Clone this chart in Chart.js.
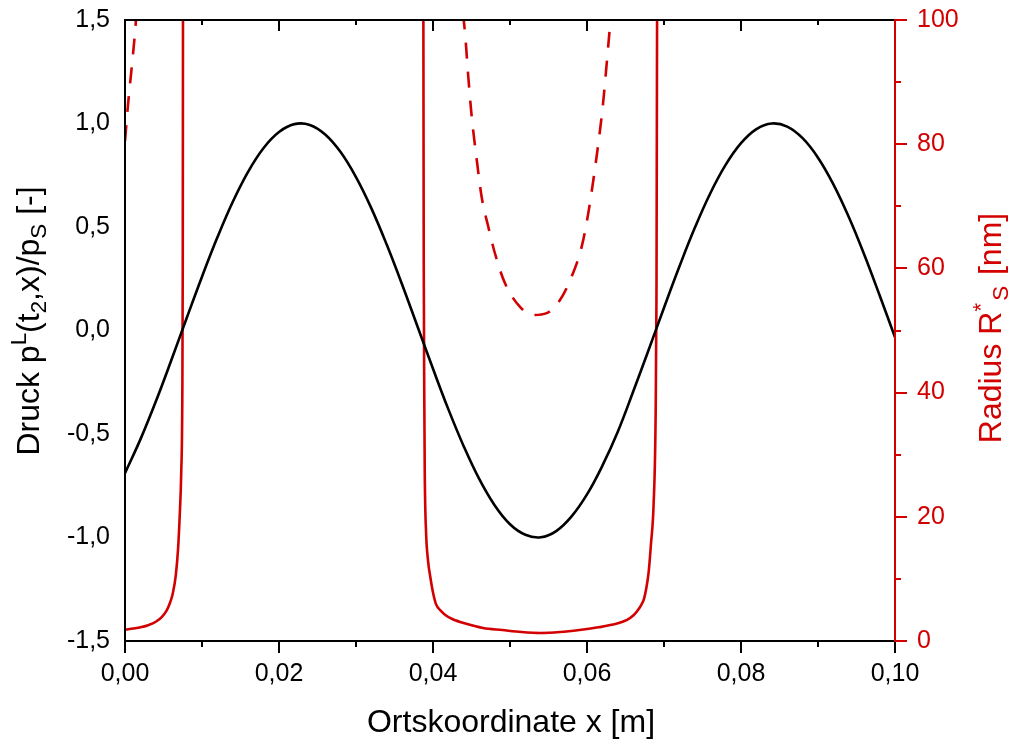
<!DOCTYPE html>
<html><head><meta charset="utf-8">
<script src="https://cdn.jsdelivr.net/npm/chart.js@4/dist/chart.umd.min.js"></script>
<style>html,body{margin:0;padding:0;background:#fff;}#wrap{position:relative;width:1011px;height:742px;}</style>
</head><body><div id="wrap"><canvas id="c" width="1011" height="742"></canvas></div>
<script>
// ---- data ----
const pressureX = [0,0.002,0.004,0.006,0.008,0.010,0.012,0.014,0.016,0.018,0.020,0.022,0.024,0.026,0.028,0.030,0.032,0.034,0.036,0.038,0.040,0.042,0.044,0.046,0.048,0.050,0.052,0.054,0.056,0.058,0.060,0.062,0.064,0.066,0.068,0.070,0.072,0.074,0.076,0.078,0.080,0.082,0.084,0.086,0.088,0.090,0.092,0.094,0.096,0.098,0.100];
const pressureY = [-0.689,-0.526,-0.343,-0.145,0.059,0.260,0.450,0.622,0.768,0.882,0.959,0.997,0.993,0.947,0.862,0.741,0.590,0.414,0.221,0.018,-0.185,-0.381,-0.560,-0.717,-0.844,-0.936,-0.987,-0.999,-0.969,-0.898,-0.792,-0.653,-0.489,-0.295,-0.094,0.110,0.309,0.496,0.662,0.800,0.905,0.973,1.000,0.985,0.929,0.835,0.706,0.548,0.367,0.170,-0.033];
const radiusX = [0,0.001,0.002,0.003,0.004,0.0048,0.0054,0.0058,0.0062,0.0066,0.0069,0.0071,0.0073,0.00744,0.0075,0.00753,0.00755,null,
  0.03873,0.03875,0.0388,0.03887,0.03893,0.0391,0.03935,0.03965,0.0400,0.0404,0.0410,0.0416,0.0425,0.0441,0.0465,0.049,0.0515,0.054,0.0565,0.059,0.0615,0.064,0.0652,0.0660,0.0665,0.0670,0.0674,0.0677,0.0680,0.0683,0.06865,0.0689,0.06902,0.0691,0.06912];
const radiusY = [1.8,2.0,2.2,2.55,3.1,3.9,4.9,6.0,7.6,10.6,15,20,27,38.8,60,100,130,null,
  130,100,60,38.8,27,17.5,13.0,10.3,7.8,5.9,4.9,4.2,3.55,2.85,2.1,1.77,1.45,1.3,1.45,1.77,2.2,2.85,3.4,4.1,4.8,5.7,6.8,8.5,11,15.5,22,35,55,100,130];
const radiusDashX = [0,0.0004,0.0008,0.0013,0.0016,null,
  0.0439,0.04416,0.04458,0.04503,0.04568,0.04632,0.04718,0.04805,0.04935,0.0513,0.05295,0.05477,0.05649,0.05801,0.05931,0.06017,0.06082,0.06147,0.06204,0.06256,0.06299,0.0631];
const radiusDashY = [80.5,86.5,91.5,98,103,null,
  101,97.9,90.9,84.4,77.5,71.5,66.7,62.4,57.6,53.8,52.5,52.8,54.9,58.7,63.5,68.9,74.2,80.1,86.0,93.0,99.2,101];
const xTickValues = [0,0.02,0.04,0.06,0.08,0.10];
const yLeftTickValues = [-1.5,-1.0,-0.5,0,0.5,1.0,1.5];
const yRightTickValues = [0,20,40,60,80,100];

const RED = '#d20000';
const FONT = "'Liberation Sans', Arial, sans-serif";
const pts = (xs, ys) => xs.map((x, i) => x === null ? {x: null, y: null} : {x: x, y: ys[i]});
function comma(v, d){ return v.toFixed(d).replace('.', ','); }

function richText(ctx, parts, x, y, rot, color, size) {
  ctx.save();
  ctx.translate(x, y); ctx.rotate(rot);
  ctx.fillStyle = color; ctx.textBaseline = 'alphabetic'; ctx.textAlign = 'left';
  const small = size * 0.7;
  let total = 0;
  const ws = parts.map(p => { const s = p.k ? small : size; ctx.font = s + 'px ' + FONT; const w = ctx.measureText(p.t).width + (p.gap || 0); total += w; return w; });
  let cx = -total / 2;
  parts.forEach((p, i) => {
    const s = p.k ? small : size;
    ctx.font = s + 'px ' + FONT;
    let dy = 0;
    if (p.k === 'sup') dy = -size * 0.42;
    if (p.k === 'sub') dy = size * 0.22;
    ctx.fillText(p.t, cx, dy);
    cx += ws[i];
  });
  ctx.restore();
}

const decor = {
  id: 'decor',
  afterDraw(chart) {
    const {ctx, chartArea: a, scales} = chart;
    const xs = scales.x, yr = scales.y2;
    ctx.save();
    ctx.lineWidth = 2;
    ctx.strokeStyle = '#000';
    for (let i = 0; i <= 10; i++) {
      const v = i * 0.01;
      const px = Math.round(xs.getPixelForValue(v));
      const major = i % 2 === 0;
      ctx.beginPath(); ctx.moveTo(px, a.bottom); ctx.lineTo(px, a.bottom + (major ? 12 : 6)); ctx.stroke();
      ctx.beginPath(); ctx.moveTo(px, a.top); ctx.lineTo(px, a.top + (major ? 11 : 5)); ctx.stroke();
    }
    ctx.beginPath(); ctx.moveTo(a.left, a.top); ctx.lineTo(a.right, a.top); ctx.stroke();
    ctx.beginPath(); ctx.moveTo(a.left, a.bottom); ctx.lineTo(a.right, a.bottom); ctx.stroke();
    ctx.beginPath(); ctx.moveTo(a.left, a.top - 1); ctx.lineTo(a.left, a.bottom + 1); ctx.stroke();
    ctx.strokeStyle = RED;
    ctx.beginPath(); ctx.moveTo(a.right, a.top - 1); ctx.lineTo(a.right, a.bottom + 1); ctx.stroke();
    for (let v = 0; v <= 100; v += 10) {
      const py = Math.round(yr.getPixelForValue(v));
      ctx.beginPath(); ctx.moveTo(a.right, py); ctx.lineTo(a.right + (v % 20 === 0 ? 12 : 6), py); ctx.stroke();
    }
    ctx.restore();
    richText(ctx, [{t: 'Ortskoordinate x [m]'}], 511, 732, 0, '#000', 32);
    richText(ctx, [{t: 'Druck p'}, {t: 'L', k: 'sup'}, {t: '(t'}, {t: '2', k: 'sub'}, {t: ',x)/p'}, {t: 'S', k: 'sub'}, {t: ' [-]'}], 39, 321, -Math.PI / 2, '#000', 32);
    richText(ctx, [{t: 'Radius R'}, {t: '*', k: 'sup', gap: 2}, {t: 'S', k: 'sub', gap: 2}, {t: ' [nm]'}], 1001, 328, -Math.PI / 2, RED, 32);
  }
};

const noPadV = s => { s.paddingTop = 0; s.paddingBottom = 0; };

new Chart(document.getElementById('c'), {
  type: 'line',
  data: {
    datasets: [
      {data: pts(pressureX, pressureY), yAxisID: 'y', borderColor: '#000', borderWidth: 2.6, pointRadius: 0, tension: 0.4, clip: 0},
      {data: pts(radiusX, radiusY), yAxisID: 'y2', borderColor: RED, borderWidth: 2.6, pointRadius: 0, cubicInterpolationMode: 'monotone', spanGaps: false, clip: 0},
      {data: pts(radiusDashX, radiusDashY), yAxisID: 'y2', borderColor: RED, borderWidth: 2.6, borderDash: [16, 13], pointRadius: 0, cubicInterpolationMode: 'monotone', spanGaps: false, clip: 0}
    ]
  },
  options: {
    responsive: false, animation: false, devicePixelRatio: 1,
    layout: {padding: {top: 20, left: 0, right: 0, bottom: 0}},
    plugins: {legend: {display: false}, tooltip: {enabled: false}},
    scales: {
      x: {type: 'linear', position: 'bottom', min: 0, max: 0.1,
        afterBuildTicks: s => { s.ticks = xTickValues.map(v => ({value: v})); },
        ticks: {callback: v => comma(v, 2), color: '#000', font: {family: FONT, size: 25}, padding: 18, maxRotation: 0, autoSkip: false},
        grid: {display: false, drawTicks: false}, border: {display: false},
        afterFit: s => { s.height = 101; s.paddingLeft = 0; s.paddingRight = 0; }},
      y: {type: 'linear', position: 'left', min: -1.5, max: 1.5,
        afterBuildTicks: s => { s.ticks = yLeftTickValues.map(v => ({value: v})); },
        ticks: {callback: v => comma(v, 1), color: '#000', font: {family: FONT, size: 25}, padding: 15, autoSkip: false},
        grid: {display: false, drawTicks: false}, border: {display: false},
        afterFit: s => { s.width = 125; noPadV(s); }},
      y2: {type: 'linear', position: 'right', min: 0, max: 100,
        afterBuildTicks: s => { s.ticks = yRightTickValues.map(v => ({value: v})); },
        ticks: {callback: v => String(v), color: RED, font: {family: FONT, size: 25}, padding: 22, autoSkip: false},
        grid: {display: false, drawTicks: false}, border: {display: false},
        afterFit: s => { s.width = 116; noPadV(s); }}
    }
  },
  plugins: [decor]
});
</script></body></html>
